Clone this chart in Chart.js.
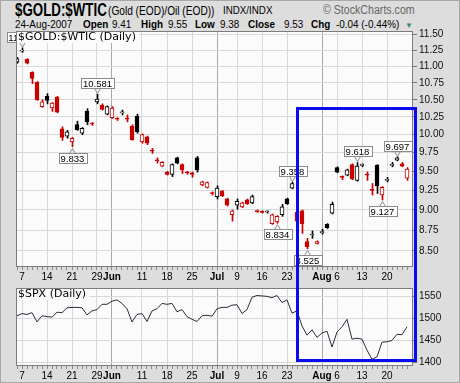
<!DOCTYPE html>
<html>
<head>
<meta charset="utf-8">
<script src="https://cdn.jsdelivr.net/npm/chart.js@4.4.0/dist/chart.umd.min.js"></script>
<style>
  body { margin: 0; background: #dddddd; width: 460px; height: 383px; overflow: hidden; position: relative; font-family: "Liberation Sans", Arial, sans-serif; }
  canvas { position: absolute; left: 0; }
  #priceChart { top: 0; }
  #spxChart { top: 280px; }
  .t { position: absolute; white-space: pre; color: #000; line-height: 1; transform-origin: 0 0; }
  .b { font-weight: bold; }
  #frame { position: absolute; left: 0; top: 0; width: 460px; height: 383px; border: 1px solid #a8a8a8; box-sizing: border-box; }
  #blueBox { position: absolute; left: 296px; top: 107px; width: 121px; height: 255px; border: 3px solid #0b0bf0; box-sizing: border-box; }
</style>
</head>
<body>
<div id="frame"></div>
<div class="t b" style="left:15px;top:1px;font-size:18px;transform:scaleX(0.74);">$GOLD:$WTIC</div>
<div class="t" style="left:108px;top:4px;font-size:13px;transform:scaleX(0.78);">(Gold (EOD)/Oil (EOD))</div>
<div class="t" style="left:223px;top:5px;font-size:11.5px;transform:scaleX(0.85);">INDX/INDX</div>
<div class="t" style="left:323px;top:4px;font-size:12.5px;color:#666;transform:scaleX(0.85);">© StockCharts.com</div>
<div class="t" style="left:15px;top:19px;font-size:11.5px;transform:scaleX(0.86);">24-Aug-2007</div>
<div class="t b" style="left:83px;top:19px;font-size:11.5px;transform:scaleX(0.86);">Open</div>
<div class="t" style="left:112px;top:19px;font-size:11.5px;transform:scaleX(0.86);">9.41</div>
<div class="t b" style="left:141px;top:19px;font-size:11.5px;transform:scaleX(0.86);">High</div>
<div class="t" style="left:168px;top:19px;font-size:11.5px;transform:scaleX(0.86);">9.55</div>
<div class="t b" style="left:195px;top:19px;font-size:11.5px;transform:scaleX(0.86);">Low</div>
<div class="t" style="left:220px;top:19px;font-size:11.5px;transform:scaleX(0.86);">9.38</div>
<div class="t b" style="left:248px;top:19px;font-size:11.5px;transform:scaleX(0.86);">Close</div>
<div class="t" style="left:284px;top:19px;font-size:11.5px;transform:scaleX(0.86);">9.53</div>
<div class="t b" style="left:311px;top:19px;font-size:11.5px;transform:scaleX(0.86);">Chg</div>
<div class="t" style="left:336px;top:19px;font-size:11.5px;transform:scaleX(0.86);">-0.04 (-0.44%)</div>
<div class="t" style="left:405px;top:22px;font-size:8px;color:#3a8a6e;">▼</div>

<canvas id="priceChart" width="460" height="285"></canvas>
<canvas id="spxChart" width="460" height="103"></canvas>
<div id="blueBox"></div>

<script>
"use strict";

// trading days shown on the chart
const dates = [
  "2007-05-04", "2007-05-07", "2007-05-08", "2007-05-09", "2007-05-10", "2007-05-11",
  "2007-05-14", "2007-05-15", "2007-05-16", "2007-05-17", "2007-05-18",
  "2007-05-21", "2007-05-22", "2007-05-23", "2007-05-24", "2007-05-25",
  "2007-05-29", "2007-05-30", "2007-05-31", "2007-06-01",
  "2007-06-04", "2007-06-05", "2007-06-06", "2007-06-07", "2007-06-08",
  "2007-06-11", "2007-06-12", "2007-06-13", "2007-06-14", "2007-06-15",
  "2007-06-18", "2007-06-19", "2007-06-20", "2007-06-21", "2007-06-22",
  "2007-06-25", "2007-06-26", "2007-06-27", "2007-06-28", "2007-06-29",
  "2007-07-02", "2007-07-03", "2007-07-05", "2007-07-06",
  "2007-07-09", "2007-07-10", "2007-07-11", "2007-07-12", "2007-07-13",
  "2007-07-16", "2007-07-17", "2007-07-18", "2007-07-19", "2007-07-20",
  "2007-07-23", "2007-07-24", "2007-07-25", "2007-07-26", "2007-07-27",
  "2007-07-30", "2007-07-31", "2007-08-01", "2007-08-02", "2007-08-03",
  "2007-08-06", "2007-08-07", "2007-08-08", "2007-08-09", "2007-08-10",
  "2007-08-13", "2007-08-14", "2007-08-15", "2007-08-16", "2007-08-17",
  "2007-08-20", "2007-08-21", "2007-08-22", "2007-08-23", "2007-08-24"
];

// $GOLD:$WTIC daily ohlc
const opens = [
  11.07, 11.24, 11.11, 10.91, 10.76, 10.40, 10.55, 10.38, 10.54, 10.08,
  9.98, 9.90, 10.14, 10.02, 10.33, 10.16, 10.47, 10.42, 10.29, 10.24,
  10.23, 10.31, 10.23, 10.12, 10.26, 9.90, 9.97, 9.78, 9.65, 9.57,
  9.49, 9.46, 9.68, 9.59, 9.49, 9.48, 9.68, 9.32, 9.29, 9.22,
  9.17, 9.24, 9.14, 8.94, 9.06, 9.04, 9.13, 9.09, 8.99, 8.98,
  8.975, 8.83, 8.85, 8.94, 9.14, 9.28, 8.97, 8.99, 8.61, 8.69,
  8.59, 8.72, 8.82, 8.96, 9.55, 9.43, 9.45, 9.59, 9.38, 9.58,
  9.46, 9.26, 9.58, 9.19, 9.38, 9.58, 9.65, 9.60, 9.41
];
const highs = [
  11.14, 11.29, 11.12, 10.92, 10.77, 10.50, 10.59, 10.46, 10.55, 10.11,
  10.06, 9.96, 10.19, 10.10, 10.37, 10.17, 10.581, 10.44, 10.41, 10.40,
  10.24, 10.35, 10.28, 10.14, 10.29, 10.01, 9.98, 9.81, 9.68, 9.63,
  9.50, 9.60, 9.69, 9.60, 9.50, 9.49, 9.70, 9.37, 9.36, 9.23,
  9.31, 9.25, 9.15, 9.00, 9.14, 9.10, 9.14, 9.19, 9.00, 8.99,
  8.99, 8.95, 8.93, 9.07, 9.15, 9.358, 8.99, 9.00, 8.65, 8.74,
  8.62, 8.76, 8.83, 9.10, 9.56, 9.44, 9.53, 9.60, 9.618, 9.60,
  9.49, 9.34, 9.59, 9.30, 9.42, 9.62, 9.697, 9.62, 9.55
];
const lows = [
  11.05, 11.22, 11.04, 10.74, 10.49, 10.39, 10.44, 10.33, 10.31, 9.92,
  9.95, 9.833, 10.06, 10.00, 10.14, 10.13, 10.44, 10.35, 10.28, 10.23,
  10.20, 10.28, 10.18, 9.92, 10.02, 9.88, 9.86, 9.74, 9.61, 9.56,
  9.45, 9.43, 9.60, 9.47, 9.46, 9.42, 9.49, 9.31, 9.28, 9.19,
  9.14, 9.17, 9.05, 8.86, 9.01, 9.03, 9.07, 9.08, 8.97, 8.96,
  8.96, 8.82, 8.834, 8.92, 9.07, 9.27, 8.85, 8.71, 8.525, 8.65,
  8.58, 8.70, 8.77, 8.95, 9.48, 9.39, 9.44, 9.39, 9.37, 9.56,
  9.38, 9.19, 9.21, 9.127, 9.36, 9.56, 9.64, 9.56, 9.38
];
const closes = [
  11.12, 11.25, 11.05, 10.82, 10.50, 10.47, 10.49, 10.45, 10.32, 9.96,
  10.04, 9.95, 10.07, 10.09, 10.18, 10.15, 10.51, 10.36, 10.40, 10.38,
  10.22, 10.32, 10.22, 9.93, 10.04, 10.00, 9.88, 9.77, 9.64, 9.62,
  9.46, 9.59, 9.61, 9.52, 9.48, 9.46, 9.52, 9.36, 9.35, 9.21,
  9.28, 9.18, 9.06, 8.99, 9.11, 9.09, 9.08, 9.17, 8.98, 8.97,
  8.98, 8.94, 8.92, 9.04, 9.08, 9.34, 8.86, 8.83, 8.55, 8.70,
  8.61, 8.73, 8.78, 9.07, 9.49, 9.42, 9.52, 9.40, 9.57, 9.585,
  9.45, 9.25, 9.31, 9.29, 9.39, 9.59, 9.68, 9.57, 9.53
];

// $SPX daily close
const spx = [
  1506, 1511, 1509, 1513, 1492, 1506, 1504, 1503, 1514, 1513,
  1524, 1525, 1525, 1524, 1508, 1517, 1520, 1532, 1532, 1539,
  1542, 1534, 1522, 1492, 1509, 1511, 1493, 1517, 1522, 1534,
  1532, 1534, 1515, 1520, 1504, 1498, 1493, 1506, 1507, 1505,
  1522, 1525, 1525, 1530, 1531, 1511, 1520, 1548, 1552, 1551,
  1550, 1547, 1552, 1536, 1542, 1512, 1517, 1483, 1462, 1474,
  1457, 1467, 1471, 1435, 1469, 1481, 1498, 1453, 1455, 1453,
  1428, 1407, 1413, 1446, 1447, 1450, 1464, 1463, 1481
];

// axis labels
const tickDates = [
  "2007-05-07", "2007-05-14", "2007-05-21", "2007-05-29", "2007-06-01", "2007-06-11",
  "2007-06-18", "2007-06-25", "2007-07-02", "2007-07-09", "2007-07-16", "2007-07-23",
  "2007-08-01", "2007-08-06", "2007-08-13", "2007-08-20"
];
const tickText = ["7", "14", "21", "29", "Jun", "11", "18", "25", "Jul", "9", "16", "23", "Aug", "6", "13", "20"];
const monthText = ["Jun", "Jul", "Aug"];
const priceTicks = [8.5, 8.75, 9, 9.25, 9.5, 9.75, 10, 10.25, 10.5, 10.75, 11, 11.25, 11.5];
const spxTicks = [1400, 1450, 1500, 1550];

// high / low callouts: day and whether it marks the high or the low
const markDates = ["2007-05-07", "2007-05-21", "2007-05-29", "2007-07-19", "2007-07-24", "2007-07-27", "2007-08-10", "2007-08-17", "2007-08-22"];
const markSide = ["high", "low", "high", "low", "high", "low", "high", "low", "high"];

const FONT = '"Liberation Sans", Arial, sans-serif';
const RED = "#c80000";
const xMin = -0.2;
const xMax = 79.2;

// stockcharts colouring: red if close fell vs previous close, filled if close < open
const colors = closes.map((c, i) => (i > 0 && c < closes[i - 1] ? RED : "#000000"));
const fills = closes.map((c, i) => (c < opens[i] ? colors[i] : "#ffffff"));
const bodies = dates.map((d, i) => ({ x: i, y: [Math.min(opens[i], closes[i]), Math.max(opens[i], closes[i])] }));
const wicks = dates.map((d, i) => ({ x: i, y: [lows[i], highs[i]] }));

function tickIndex(v) {
  return tickDates.indexOf(dates[Math.round(v)]);
}

function gridColor(ctx) {
  if (!ctx.tick) return "rgba(0,0,0,0)";
  const k = tickIndex(ctx.tick.value);
  if (k < 0) return "rgba(0,0,0,0)";
  return monthText.includes(tickText[k]) ? "#a9a9a9" : "#d9d9d9";
}

function xTickFont(ctx) {
  const k = ctx.tick ? tickIndex(ctx.tick.value) : -1;
  const bold = k >= 0 && monthText.includes(tickText[k]);
  return { family: FONT, size: 10, weight: bold ? "bold" : "normal" };
}

function xAxis(height) {
  return {
    type: "linear",
    min: xMin,
    max: xMax,
    bounds: "data",
    offset: false,
    afterBuildTicks: (s) => { s.ticks = dates.map((d, i) => ({ value: i })); },
    afterFit: (s) => { s.height = height; },
    grid: { color: gridColor, tickColor: "#8a8a8a", tickLength: 3, offset: false, lineWidth: 1 },
    border: { display: false },
    ticks: {
      autoSkip: false, maxRotation: 0, minRotation: 0, padding: 1, color: "#000",
      font: xTickFont,
      callback: (v) => { const k = tickIndex(v); return k < 0 ? "" : tickText[k]; }
    }
  };
}

// plot background, frame and the panel name in the corner
const panelPlugin = {
  id: "panel",
  beforeDraw(chart) {
    const a = chart.chartArea;
    const ctx = chart.ctx;
    ctx.save();
    ctx.fillStyle = "#fbfbfb";
    ctx.fillRect(a.left, a.top, a.right - a.left, a.bottom - a.top);
    ctx.restore();
  },
  afterDraw(chart, args, opts) {
    const a = chart.chartArea;
    const ctx = chart.ctx;
    ctx.save();
    ctx.font = '11px "DejaVu Sans", sans-serif';
    const w = ctx.measureText(opts.label).width;
    ctx.fillStyle = "#fbfbfb";
    ctx.fillRect(a.left + 1, a.top + 1, w + 4, 11);
    ctx.fillStyle = "#000";
    ctx.textBaseline = "middle";
    ctx.fillText(opts.label, a.left + 2, a.top + 6.5);
    ctx.strokeStyle = "#7c7c7c";
    ctx.lineWidth = 1;
    ctx.strokeRect(a.left + 0.5, a.top + 0.5, a.right - a.left - 1, a.bottom - a.top - 1);
    ctx.restore();
  }
};

// boxed value callouts at swing highs / lows
const markerPlugin = {
  id: "markers",
  afterDatasetsDraw(chart) {
    const ctx = chart.ctx;
    const xs = chart.scales.x;
    const ys = chart.scales.y;
    ctx.save();
    ctx.font = "9.5px " + FONT;
    ctx.lineWidth = 1;
    markDates.forEach((d, k) => {
      const i = dates.indexOf(d);
      const above = markSide[k] === "high";
      const v = above ? highs[i] : lows[i];
      const txt = v.toFixed(3);
      const x = Math.round(xs.getPixelForValue(i)) + 0.5;
      const y = ys.getPixelForValue(v);
      const w = Math.round(ctx.measureText(txt).width) + 4;
      const h = 10;
      const tip = Math.round(above ? y - 1 : y + 1) + 0.5;
      const edge = above ? tip - 5 : tip + 5;
      const top = above ? edge - h : edge;
      const left = Math.round(x - w / 2) + 0.5;
      ctx.fillStyle = "#ffffff";
      ctx.strokeStyle = "#8c8c8c";
      ctx.fillRect(left, top, w, h);
      ctx.strokeRect(left, top, w, h);
      ctx.beginPath();
      ctx.moveTo(x - 3, edge);
      ctx.lineTo(x, tip);
      ctx.lineTo(x + 3, edge);
      ctx.stroke();
      ctx.fillStyle = "#000";
      ctx.textAlign = "center";
      ctx.textBaseline = "middle";
      ctx.fillText(txt, x, top + h / 2 + 0.5);
    });
    ctx.restore();
  }
};

new Chart(document.getElementById("priceChart"), {
  type: "bar",
  data: {
    datasets: [
      {
        label: "body", data: bodies, xAxisID: "x", yAxisID: "y",
        barThickness: 4, minBarLength: 1, grouped: false, order: 0,
        backgroundColor: fills, borderColor: colors, borderWidth: 1, borderSkipped: false
      },
      {
        label: "wick", data: wicks, xAxisID: "xw", yAxisID: "y",
        barThickness: 1, grouped: false, order: 1,
        backgroundColor: colors, borderWidth: 0
      }
    ]
  },
  options: {
    responsive: false,
    animation: false,
    events: [],
    layout: { padding: { left: 16, top: 31, right: 0, bottom: 0 } },
    plugins: { legend: { display: false }, tooltip: { enabled: false }, panel: { label: "$GOLD:$WTIC (Daily)" } },
    scales: {
      x: xAxis(18),
      xw: { type: "linear", display: false, min: xMin - 0.1, max: xMax - 0.1, offset: false },
      y: {
        type: "logarithmic",
        position: "right",
        min: 8.31,
        max: 11.56,
        bounds: "data",
        afterBuildTicks: (s) => { s.ticks = priceTicks.map((v) => ({ value: v })); },
        afterFit: (s) => { s.width = 47; },
        grid: { color: "#d9d9d9", tickColor: "#777", tickLength: 4 },
        border: { display: false },
        ticks: { padding: 2, color: "#111", font: { family: FONT, size: 10 }, callback: (v) => Number(v).toFixed(2) }
      }
    }
  },
  plugins: [panelPlugin, markerPlugin]
});

new Chart(document.getElementById("spxChart"), {
  type: "line",
  data: {
    datasets: [{
      label: "$SPX",
      data: spx.map((v, i) => ({ x: i, y: v })),
      borderColor: "#2c2c3c",
      borderWidth: 1,
      pointRadius: 0,
      tension: 0
    }]
  },
  options: {
    responsive: false,
    animation: false,
    events: [],
    layout: { padding: { left: 16, top: 3, right: 0, bottom: 0 } },
    plugins: { legend: { display: false }, tooltip: { enabled: false }, panel: { label: "$SPX (Daily)" } },
    scales: {
      x: xAxis(17),
      y: {
        type: "linear",
        position: "right",
        min: 1392,
        max: 1569,
        bounds: "data",
        afterBuildTicks: (s) => { s.ticks = spxTicks.map((v) => ({ value: v })); },
        afterFit: (s) => { s.width = 47; },
        grid: { color: "#d9d9d9", tickColor: "#777", tickLength: 4 },
        border: { display: false },
        ticks: { padding: 2, color: "#111", font: { family: FONT, size: 10 }, callback: (v) => String(v) }
      }
    }
  },
  plugins: [panelPlugin]
});
</script>
</body>
</html>
